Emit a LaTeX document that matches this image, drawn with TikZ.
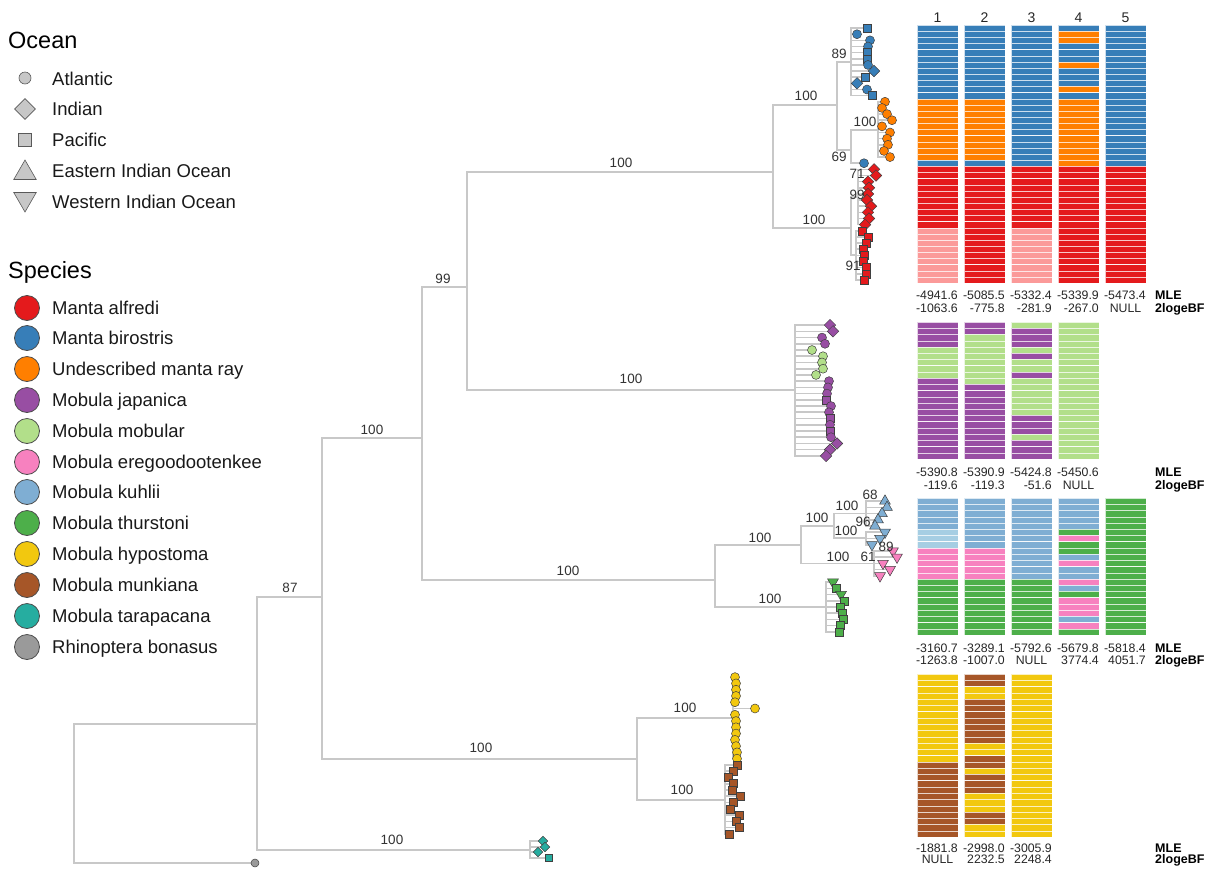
\documentclass[tikz,border=0pt]{standalone}
\usepackage{fontspec}
\setmainfont{Liberation Sans}
\usetikzlibrary{shapes.geometric}
\definecolor{cLine}{HTML}{C8C8C8}
\definecolor{cRed}{HTML}{E41A1C}
\definecolor{cBlue}{HTML}{377EB8}
\definecolor{cOr}{HTML}{FF7F00}
\definecolor{cPur}{HTML}{984EA3}
\definecolor{cLg}{HTML}{B2DF8A}
\definecolor{cPink}{HTML}{F781BF}
\definecolor{cKu}{HTML}{7FAED3}
\definecolor{cKuL}{HTML}{A6CEE3}
\definecolor{cGr}{HTML}{4DAF4A}
\definecolor{cYe}{HTML}{F2C80F}
\definecolor{cBr}{HTML}{A65628}
\definecolor{cTe}{HTML}{26ADA0}
\definecolor{cGy}{HTML}{9A9A9A}
\definecolor{cPr}{HTML}{FB9A99}
\newcounter{rowpos}
\newcommand\barcol[4]{%
  \setcounter{rowpos}{0}%
  \foreach \cc/\nn in {#4}{%
    \foreach \k in {1,...,\nn}{%
      \fill[\cc, draw=white, draw opacity=0.75, line width=0.3pt] (#1,{#2+\arabic{rowpos}*#3}) rectangle ++(41,#3);%
      \stepcounter{rowpos}%
    }%
  }%
}
\newcommand\tips[5]{%
  \foreach \r/\s/\c/\x in {#5}{%
    \coordinate (#1\r) at (\x,{#3+(\r-0.5)*#4});
    \draw[br] (#2) |- (#1\r);
  }%
  \foreach \r/\s/\c/\x in {#5}{%
    \node[\s, fill=\c] (#1m\r) at (#1\r) {};
  }%
}
\begin{document}
\begin{tikzpicture}[x=1pt,y=-1pt,
  br/.style={draw=cLine, line width=1.6pt},
  mk/.style={draw=black!75, line width=0.5pt, inner sep=0pt, outer sep=0pt},
  mkC/.style={mk, circle, minimum size=9pt},
  mkD/.style={mk, diamond, minimum size=11.5pt},
  mkS/.style={mk, rectangle, minimum size=8pt},
  mkU/.style={mk, regular polygon, regular polygon sides=3, minimum size=12.5pt},
  mkW/.style={mk, regular polygon, regular polygon sides=3, shape border rotate=180, minimum size=12.5pt},
  lbl/.style={font=\fontsize{13.5}{15}\selectfont, text=black!80, inner sep=0pt, text height=9.7pt, text depth=0pt},
  num/.style={font=\fontsize{12.3}{14}\selectfont, text=black!85, inner sep=0pt, text height=8.8pt, text depth=0pt},
  numb/.style={num, font=\fontsize{12.5}{14}\selectfont\bfseries, text=black, anchor=west},
  hdr/.style={font=\fontsize{14}{16}\selectfont, text=black!85, inner sep=0pt, text height=10pt, text depth=0pt},
  leg/.style={font=\fontsize{18.5}{21}\selectfont, text=black!90, inner sep=0pt, anchor=west, text height=13.3pt, text depth=0pt},
  ttl/.style={font=\fontsize{23.5}{26}\selectfont, text=black, inner sep=0pt, anchor=west, text height=16.8pt, text depth=0pt},
  lgs/.style={draw=black!65, fill=black!22, line width=0.6pt, inner sep=0pt},
  spc/.style={circle, draw=black!70, line width=0.8pt, minimum size=25pt, inner sep=0pt}
]
\path[use as bounding box] (0,0) rectangle (1205,868);

% ---------- legend ----------
\node[ttl] (tOcean) at (8,40) {Ocean};
\node[lgs, circle, minimum size=12pt] (o1) at (25,78) {};
\node[lgs, diamond, minimum size=21pt] (o2) at (25,109) {};
\node[lgs, rectangle, minimum size=13pt] (o3) at (25,140) {};
\node[lgs, regular polygon, regular polygon sides=3, minimum size=26pt] (o4) at (25,173) {};
\node[lgs, regular polygon, regular polygon sides=3, shape border rotate=180, minimum size=26pt] (o5) at (25,199) {};
\foreach \t/\y [count=\i] in {Atlantic/79,Indian/109,Pacific/140,Eastern Indian Ocean/171,Western Indian Ocean/202}
  \node[leg] (ot\i) at (52,\y) {\t};
\node[ttl] (tSpecies) at (8,270) {Species};
\foreach \t/\c/\y [count=\i] in {Manta alfredi/cRed/308,Manta birostris/cBlue/338,Undescribed manta ray/cOr/369,Mobula japanica/cPur/400,Mobula mobular/cLg/431,Mobula eregoodootenkee/cPink/462,Mobula kuhlii/cKu/492,Mobula thurstoni/cGr/523,Mobula hypostoma/cYe/554,Mobula munkiana/cBr/585,Mobula tarapacana/cTe/616,Rhinoptera bonasus/cGy/647}{
  \node[spc, fill=\c] (sc\i) at (27,\y) {};
  \node[leg] (st\i) at (52,\y) {\t};
}

% ---------- tree internal nodes ----------
\coordinate (R) at (74,793);
\coordinate (A) at (257,724);
\coordinate (Rh) at (255,863);
\coordinate (B) at (322,597);
\coordinate (T) at (530,850);
\coordinate (C) at (422,438);
\coordinate (Q) at (637,759);
\coordinate (D) at (467,287);
\coordinate (E) at (715,580);
\coordinate (F) at (773,172);
\coordinate (P2) at (795,390);
\coordinate (G) at (837,105);
\coordinate (Ral) at (851,228);
\coordinate (I) at (851,62);
\coordinate (H) at (851,150);
\coordinate (J) at (878,130);
\coordinate (S1) at (858,197);
\coordinate (S2) at (856,255);
\coordinate (K) at (801,545);
\coordinate (Gr) at (826,607);
\coordinate (L) at (834,526);
\coordinate (P) at (874,563.5);
\coordinate (N) at (866,513.5);
\coordinate (O) at (866,538);
\coordinate (Y) at (733,718);
\coordinate (Bm) at (725,800);

\foreach \p/\c in {R/A,R/Rh,A/B,A/T,B/C,B/Q,C/D,C/E,D/F,D/P2,F/G,F/Ral,G/I,G/H,H/J,Ral/S1,Ral/S2,E/K,E/Gr,K/L,K/P,L/N,L/O,Q/Y,Q/Bm}
  \draw[br] (\p) |- (\c);

% ---------- tips ----------
\tips{a}{I}{25}{6.1429}{1/mkS/cBlue/867,2/mkC/cBlue/857,3/mkC/cBlue/870,4/mkC/cBlue/868,5/mkS/cBlue/867,6/mkS/cBlue/867,7/mkC/cBlue/868,8/mkD/cBlue/874,9/mkS/cBlue/865,10/mkD/cBlue/857,11/mkC/cBlue/867,12/mkS/cBlue/872}
\tips{a}{J}{25}{6.1429}{13/mkC/cOr/885,14/mkC/cOr/882,15/mkC/cOr/887,16/mkC/cOr/892,17/mkC/cOr/882,18/mkC/cOr/890,19/mkC/cOr/887,20/mkC/cOr/888,21/mkC/cOr/884,22/mkC/cOr/890}
\tips{a}{H}{25}{6.1429}{23/mkC/cBlue/864}
\tips{a}{S1}{25}{6.1429}{24/mkD/cRed/874,25/mkD/cRed/876,26/mkD/cRed/868,27/mkD/cRed/869,28/mkD/cRed/868,29/mkD/cRed/867,30/mkD/cRed/871,31/mkD/cRed/868,32/mkD/cRed/869,33/mkD/cRed/865}
\tips{a}{S2}{25}{6.1429}{34/mkS/cRed/862,35/mkS/cRed/868,36/mkS/cRed/866,37/mkS/cRed/863,38/mkS/cRed/864,39/mkS/cRed/863,40/mkS/cRed/866,41/mkS/cRed/866,42/mkS/cRed/864}

\tips{b}{P2}{322}{6.227}{1/mkD/cPur/830,2/mkD/cPur/833,3/mkC/cPur/822,4/mkC/cPur/825,5/mkC/cLg/812,6/mkC/cLg/823,7/mkC/cLg/822,8/mkC/cLg/823,9/mkC/cLg/816,10/mkC/cPur/829,11/mkC/cPur/828,12/mkC/cPur/827,13/mkS/cPur/826,14/mkC/cPur/831,15/mkC/cPur/829,16/mkS/cPur/830,17/mkC/cPur/830,18/mkS/cPur/830,19/mkC/cPur/831,20/mkD/cPur/837,21/mkD/cPur/830,22/mkD/cPur/826}

\tips{c}{N}{498}{6.227}{1/mkU/cKu/885,2/mkU/cKu/887,3/mkU/cKu/882,4/mkU/cKu/878,5/mkU/cKu/875}
\tips{c}{O}{498}{6.227}{6/mkW/cKu/885,7/mkW/cKu/880,8/mkW/cKu/872}
\tips{c}{P}{498}{6.227}{9/mkW/cPink/893,10/mkW/cPink/897,11/mkW/cPink/883,12/mkW/cPink/890,13/mkW/cPink/880}
\tips{c}{Gr}{498}{6.227}{14/mkW/cGr/833,15/mkS/cGr/836,16/mkW/cGr/841,17/mkS/cGr/844,18/mkS/cGr/840,19/mkS/cGr/842,20/mkS/cGr/843,21/mkS/cGr/840,22/mkS/cGr/839}

\tips{d}{Y}{674}{6.269}{1/mkC/cYe/735,2/mkC/cYe/736,3/mkC/cYe/736,4/mkC/cYe/736,5/mkC/cYe/735,6/mkC/cYe/755,7/mkC/cYe/735,8/mkC/cYe/736,9/mkC/cYe/736,10/mkC/cYe/736,11/mkC/cYe/735,12/mkC/cYe/736,13/mkC/cYe/737,14/mkC/cYe/737}
\tips{d}{Bm}{674}{6.269}{15/mkS/cBr/737,16/mkS/cBr/733,17/mkS/cBr/728,18/mkS/cBr/733,19/mkS/cBr/732,20/mkS/cBr/740,21/mkS/cBr/733,22/mkS/cBr/730,23/mkS/cBr/739,24/mkS/cBr/736,25/mkS/cBr/739,26/mkS/cBr/729}

% tarapacana
\coordinate (tt1) at (543,841);
\coordinate (tt2) at (545,847);
\coordinate (tt3) at (538,852);
\coordinate (tt4) at (549,858);
\foreach \k in {1,2,3,4} \draw[br] (T) |- (tt\k);
\node[mkD, fill=cTe, minimum size=9.5pt] (tm1) at (tt1) {};
\node[mkD, fill=cTe, minimum size=9.5pt] (tm2) at (tt2) {};
\node[mkD, fill=cTe, minimum size=9.5pt] (tm3) at (tt3) {};
\node[mkS, fill=cTe, minimum size=7pt] (tm4) at (tt4) {};
% rhinoptera
\node[mkC, fill=cGy, minimum size=8pt] (rhm) at (Rh) {};

% ---------- branch labels ----------
\foreach \x/\y/\t [count=\i] in {290/588/87,392/840/100,372/430/100,481/748/100,443/279/99,568/571/100,621/163/100,631/379/100,806/96/100,814/220/100,839/54/89,839/157/69,865/122/100,857/174/71,857/195/99,853/266/91,760/538/100,770/599/100,817/518/100,847/506/100,846/531/100,838/557/100,870/495/68,863/522/96,886/547/89,868/557/61,685/708/100,682/790/100}
  \node[lbl] (lb\i) at (\x,\y) {\t};

% ---------- bars ----------
% panel 1
\barcol{917}{25}{6.1429}{cBlue/12,cOr/10,cBlue/1,cRed/10,cPr/9}
\barcol{964}{25}{6.1429}{cBlue/12,cOr/10,cBlue/1,cRed/19}
\barcol{1011}{25}{6.1429}{cBlue/23,cRed/10,cPr/9}
\barcol{1058}{25}{6.1429}{cBlue/1,cOr/2,cBlue/3,cOr/1,cBlue/3,cOr/1,cBlue/1,cOr/11,cRed/19}
\barcol{1105}{25}{6.1429}{cBlue/23,cRed/19}
% panel 2
\barcol{917}{322}{6.227}{cPur/4,cLg/5,cPur/13}
\barcol{964}{322}{6.227}{cPur/2,cLg/8,cPur/12}
\barcol{1011}{322}{6.227}{cLg/1,cPur/3,cLg/1,cPur/1,cLg/2,cPur/1,cLg/6,cPur/3,cLg/1,cPur/3}
\barcol{1058}{322}{6.227}{cLg/22}
% panel 3
\barcol{917}{498}{6.227}{cKu/5,cKuL/3,cPink/5,cGr/9}
\barcol{964}{498}{6.227}{cKu/8,cPink/5,cGr/9}
\barcol{1011}{498}{6.227}{cKu/13,cGr/9}
\barcol{1058}{498}{6.227}{cKu/5,cGr/1,cPink/1,cGr/2,cKu/1,cPink/1,cKu/2,cPink/1,cKu/1,cGr/1,cPink/3,cKu/1,cPink/1,cGr/1}
\barcol{1105}{498}{6.227}{cGr/22}
% panel 4
\barcol{917}{674}{6.269}{cYe/14,cBr/12}
\barcol{964}{674}{6.269}{cBr/2,cYe/2,cBr/7,cYe/2,cBr/2,cYe/1,cBr/3,cYe/3,cBr/2,cYe/2}
\barcol{1011}{674}{6.269}{cYe/26}

% column headers
\foreach \x [count=\i] in {937.5,984.5,1031.5,1078.5,1125.5}
  \node[hdr] (h\i) at (\x,17) {\i};

% ---------- numbers ----------
\foreach \x/\t/\a [count=\i] in {958/-4941.6/east,1005/-5085.5/east,1052/-5332.4/east,1099/-5339.9/east,1146/-5473.4/east}
  \node[num, anchor=\a] (m1n\i) at (\x,295) {\t};
\foreach \x/\t/\a [count=\i] in {958/-1063.6/east,1005/-775.8/east,1052/-281.9/east,1099/-267.0/east,1125.5/NULL/center}
  \node[num, anchor=\a] (b1n\i) at (\x,308) {\t};
\node[numb] (mle1) at (1155,295) {MLE};
\node[numb] (bf1) at (1155,308) {2logeBF};

\foreach \x/\t/\a [count=\i] in {958/-5390.8/east,1005/-5390.9/east,1052/-5424.8/east,1099/-5450.6/east}
  \node[num, anchor=\a] (m2n\i) at (\x,472) {\t};
\foreach \x/\t/\a [count=\i] in {958/-119.6/east,1005/-119.3/east,1052/-51.6/east,1078.5/NULL/center}
  \node[num, anchor=\a] (b2n\i) at (\x,485) {\t};
\node[numb] (mle2) at (1155,472) {MLE};
\node[numb] (bf2) at (1155,485) {2logeBF};

\foreach \x/\t/\a [count=\i] in {958/-3160.7/east,1005/-3289.1/east,1052/-5792.6/east,1099/-5679.8/east,1146/-5818.4/east}
  \node[num, anchor=\a] (m3n\i) at (\x,648) {\t};
\foreach \x/\t/\a [count=\i] in {958/-1263.8/east,1005/-1007.0/east,1031.5/NULL/center,1099/3774.4/east,1146/4051.7/east}
  \node[num, anchor=\a] (b3n\i) at (\x,660) {\t};
\node[numb] (mle3) at (1155,648) {MLE};
\node[numb] (bf3) at (1155,660) {2logeBF};

\foreach \x/\t/\a [count=\i] in {958/-1881.8/east,1005/-2998.0/east,1052/-3005.9/east}
  \node[num, anchor=\a] (m4n\i) at (\x,848) {\t};
\foreach \x/\t/\a [count=\i] in {937.5/NULL/center,1005/2232.5/east,1052/2248.4/east}
  \node[num, anchor=\a] (b4n\i) at (\x,859) {\t};
\node[numb] (mle4) at (1155,848) {MLE};
\node[numb] (bf4) at (1155,859) {2logeBF};
\end{tikzpicture}
\end{document}
